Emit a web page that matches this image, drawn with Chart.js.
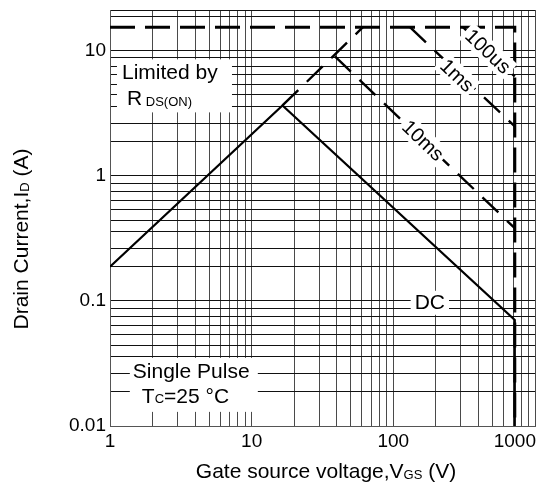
<!DOCTYPE html>
<html>
<head>
<meta charset="utf-8">
<script src="https://cdn.jsdelivr.net/npm/chart.js@4.4.0/dist/chart.umd.min.js"></script>
<style>
  html, body { margin: 0; padding: 0; background: #fff; }
  #wrap { width: 541px; height: 498px; }
</style>
</head>
<body>
<div id="wrap"><canvas id="soaChart" width="541" height="498"></canvas></div>
<script>
// Safe operating area, log-log
const xTicks = [1, 10, 100, 1000];
const xTickLabels = ["1", "10", "100", "1000"];
const yTicks = [0.01, 0.1, 1, 10];
const yTickLabels = ["0.01", "0.1", "1", "10"];
const xMax = 1000;
const yMax = 21;
// minor grid lines inside each decade, as printed on the sheet
const xMinor = [2, 3, 4, 5, 6, 7, 8, 9];
const yMinor = [1.87, 2.61, 3.56, 4.41, 5.34, 6.37, 7.45, 8.71];

// DC curve (solid)
const dcV = [1, 16.5, 720, 720];
const dcI = [0.187, 3.63, 0.0704, 0.01];
// RDS(on) limit continued above the DC knee
const rdsV = [16.5, 61];
const rdsI = [3.63, 15.3];
// pulsed current limit + voltage limit
const limV = [1, 720, 720];
const limI = [15.3, 15.3, 0.01];
// pulse widths
const us100V = [310, 720];
const us100I = [15.3, 6.19];
const ms1V = [131, 720];
const ms1I = [15.3, 2.47];
const ms10V = [38.7, 720];
const ms10I = [8.95, 0.38];

const FONT = '"Liberation Sans", Arial, sans-serif';

const pts = (xs, ys) => xs.map((v, i) => ({ x: v, y: ys[i] }));

function curve(label, xs, ys, width, dash, order) {
  return {
    label: label,
    data: pts(xs, ys),
    showLine: true,
    pointRadius: 0,
    borderColor: "#000",
    backgroundColor: "#000",
    borderWidth: width,
    borderDash: dash,
    borderCapStyle: "butt",
    tension: 0,
    fill: false,
    order: order,
  };
}

function gridValues(decades, minor, max) {
  const v = [];
  decades.forEach((d) => {
    v.push(d);
    minor.forEach((m) => { if (d * m < max) v.push(d * m); });
  });
  if (v[v.length - 1] !== max) v.push(max);
  return v;
}

const xGrid = gridValues(xTicks.slice(0, -1), xMinor, xMax);
const yGrid = gridValues(yTicks, yMinor, yMax);

function sized(size) { return size + "px " + FONT; }

function richWidth(ctx, parts) {
  let w = 0;
  parts.forEach((p) => { ctx.font = sized(p.size); w += ctx.measureText(p.t).width; });
  return w;
}

// draws text pieces (normal + subscript) left to right, y is the middle line
function drawRich(ctx, parts, left, mid) {
  let cx = left;
  ctx.textAlign = "left";
  ctx.textBaseline = "middle";
  parts.forEach((p) => {
    ctx.font = sized(p.size);
    ctx.fillText(p.t, cx, mid + (p.dy || 0));
    cx += ctx.measureText(p.t).width;
  });
}

const sheetText = {
  id: "sheetText",
  afterDatasetsDraw(chart) {
    const ctx = chart.ctx;
    const x = chart.scales.x;
    const y = chart.scales.y;
    ctx.save();
    ctx.fillStyle = "#000";

    // "Limited by RDS(ON)" block
    let bx = x.getPixelForValue(1.12);
    let by = y.getPixelForValue(8.47);
    ctx.fillStyle = "#fff";
    ctx.fillRect(bx, by, 115, 53);
    ctx.fillStyle = "#000";
    drawRich(ctx, [{ t: "Limited by", size: 21 }], bx + 5, by + 14);
    drawRich(ctx, [{ t: "R", size: 21 }, { t: " DS(ON)", size: 13, dy: 3 }], bx + 10, by + 40);

    // "Single Pulse / TC=25 °C" block
    bx = x.getPixelForValue(1.38);
    by = y.getPixelForValue(0.035);
    ctx.fillStyle = "#fff";
    ctx.fillRect(bx, by, 128, 54);
    ctx.fillStyle = "#000";
    drawRich(ctx, [{ t: "Single Pulse", size: 21 }], bx + 3, by + 14);
    drawRich(ctx, [{ t: "T", size: 21 }, { t: "C", size: 13, dy: 3 }, { t: "=25 °C", size: 21 }], bx + 12, by + 39);

    // DC label
    const dcx = x.getPixelForValue(181);
    const dcy = y.getPixelForValue(0.0964);
    ctx.font = sized(21);
    const dw = ctx.measureText("DC").width;
    ctx.fillStyle = "#fff";
    ctx.fillRect(dcx - dw / 2 - 4, dcy - 12, dw + 8, 24);
    ctx.fillStyle = "#000";
    ctx.textAlign = "center";
    ctx.textBaseline = "middle";
    ctx.fillText("DC", dcx, dcy);

    // pulse-width labels laid along their lines
    const slopeLabel = (text, xv, yv, dsIndex) => {
      const d = chart.data.datasets[dsIndex].data;
      const a = Math.atan2(
        y.getPixelForValue(d[1].y) - y.getPixelForValue(d[0].y),
        x.getPixelForValue(d[1].x) - x.getPixelForValue(d[0].x)
      );
      ctx.save();
      ctx.translate(x.getPixelForValue(xv), y.getPixelForValue(yv));
      ctx.rotate(a);
      ctx.font = sized(20);
      const w = ctx.measureText(text).width;
      ctx.fillStyle = "#fff";
      ctx.fillRect(-w / 2 - 3, -11, w + 6, 22);
      ctx.fillStyle = "#000";
      ctx.textAlign = "center";
      ctx.textBaseline = "middle";
      ctx.fillText(text, 0, 1);
      ctx.restore();
    };
    slopeLabel("100us", 465, 9.82, 3);
    slopeLabel("1ms", 281, 6.31, 4);
    slopeLabel("10ms", 162, 1.905, 5);
    ctx.restore();
  },
  afterDraw(chart) {
    const ctx = chart.ctx;
    const x = chart.scales.x;
    const y = chart.scales.y;
    const area = chart.chartArea;
    ctx.save();
    ctx.fillStyle = "#000";
    ctx.font = sized(19);
    ctx.textBaseline = "middle";

    // y tick labels
    ctx.textAlign = "right";
    yTicks.forEach((v, i) => ctx.fillText(yTickLabels[i], area.left - 4, y.getPixelForValue(v)));

    // x tick labels, the last one kept inside the canvas
    ctx.textAlign = "left";
    xTicks.forEach((v, i) => {
      const w = ctx.measureText(xTickLabels[i]).width;
      let left = x.getPixelForValue(v) - w / 2;
      if (left + w > area.right + 1) left = area.right + 1 - w;
      ctx.fillText(xTickLabels[i], left, area.bottom + 16);
    });

    // axis titles
    const xTitle = [
      { t: "Gate source voltage,V", size: 21 },
      { t: "GS", size: 13, dy: 3 },
      { t: " (V)", size: 21 },
    ];
    drawRich(ctx, xTitle, 326 - richWidth(ctx, xTitle) / 2, 472);

    const yTitle = [
      { t: "Drain Current,I", size: 21 },
      { t: "D", size: 13, dy: 3 },
      { t: " (A)", size: 21 },
    ];
    ctx.translate(22, 239);
    ctx.rotate(-Math.PI / 2);
    drawRich(ctx, yTitle, -richWidth(ctx, yTitle) / 2, 0);
    ctx.restore();
  },
};

new Chart(document.getElementById("soaChart"), {
  type: "scatter",
  data: {
    datasets: [
      curve("DC", dcV, dcI, 2.2, [], 0),
      curve("RDS(on)", rdsV, rdsI, 2.4, [22, 12], 1),
      curve("Limit", limV, limI, 3, [25, 10], 2),
      curve("100us", us100V, us100I, 2.4, [22, 12], 1),
      curve("1ms", ms1V, ms1I, 2.4, [22, 12], 1),
      curve("10ms", ms10V, ms10I, 2.4, [22, 12], 1),
    ],
  },
  options: {
    responsive: false,
    animation: false,
    events: [],
    layout: { padding: { left: 110, right: 6, top: 10, bottom: 72 } },
    plugins: { legend: { display: false }, tooltip: { enabled: false } },
    scales: {
      x: {
        type: "logarithmic",
        min: xTicks[0],
        max: xMax,
        afterBuildTicks: (scale) => { scale.ticks = xGrid.map((v) => ({ value: v })); },
        ticks: { display: false },
        grid: { color: "#4a4a4a", lineWidth: 1, drawTicks: false },
        border: { display: true, color: "#555", width: 1 },
      },
      y: {
        type: "logarithmic",
        min: yTicks[0],
        max: yMax,
        afterBuildTicks: (scale) => { scale.ticks = yGrid.map((v) => ({ value: v })); },
        ticks: { display: false },
        grid: { color: "#111", lineWidth: 1, drawTicks: false },
        border: { display: true, color: "#555", width: 1 },
      },
    },
  },
  plugins: [sheetText],
});
</script>
</body>
</html>
